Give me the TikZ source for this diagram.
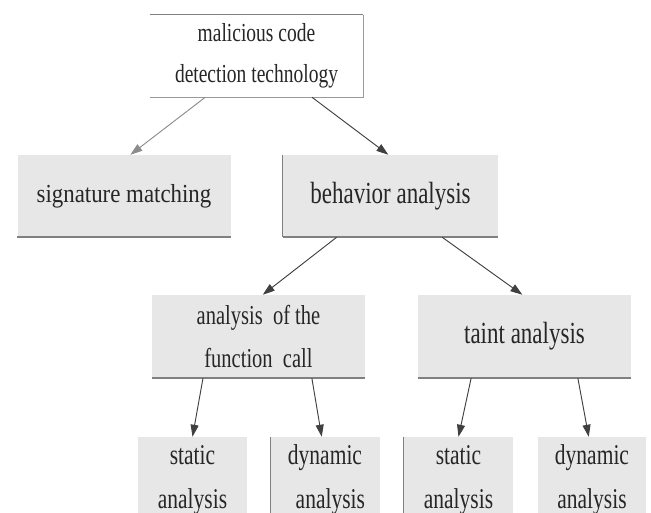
\documentclass[tikz,border=0pt]{standalone}
\usepackage{fontspec}
\usepackage{xcolor}
\usetikzlibrary{arrows.meta,calc}
\newfontfamily\condserif[FakeStretch=0.75]{Liberation Serif}
\newfontfamily\wideserif[FakeStretch=0.88]{Liberation Serif}
\definecolor{boxgray}{HTML}{E7E7E7}
\definecolor{edgegray}{HTML}{808080}

\begin{document}
\begin{tikzpicture}[x=0.75pt, y=-0.75pt,
    box/.style={fill=boxgray, inner sep=0pt, align=center, text=black!85},
    rootbox/.style={fill=white, inner sep=0pt, align=center, text=black!85, minimum width=159.75pt, minimum height=61.5pt, font={\condserif\fontsize{19.5}{31}\selectfont}},
    midbox/.style={box, minimum width=159.75pt, minimum height=61.5pt, font={\condserif\fontsize{23}{32}\selectfont}},
    leafbox/.style={box, minimum width=82pt, minimum height=64.5pt, font={\condserif\fontsize{21.5}{33}\selectfont}},
    shelf/.style={edgegray, line width=1.5pt},
    side/.style={edgegray, line width=0.5pt},
    arr/.style={-{Triangle[length=9pt,width=6pt]}, black!75, line width=0.7pt}]
    \useasboundingbox (0,0) rectangle (651,512);
    \clip (0,0) rectangle (651,512);

    \node[rootbox] (root) at (256.5,56) {malicious code\\detection technology};
    \node[midbox, font={\wideserif\fontsize{19.5}{31}\selectfont}] (sig) at (124,196) {signature matching};
    \node[midbox, minimum width=161.25pt] (beh) at (390.5,196) {behavior analysis};
    \node[midbox, minimum height=62.25pt, font={\condserif\fontsize{20.5}{32}\selectfont}] (func) at (258.5,336.5) {analysis\ \ of the\\function\ \ call};
    \node[midbox, minimum height=62.25pt] (taint) at (524.5,336.5) {taint analysis};
    \node[leafbox] (fs) at (192.5,480) {static\\analysis};
    \node[leafbox] (fd) at (325,480) {dynamic\\\ \ analysis};
    \node[leafbox] (ts) at (458.5,480) {static\\analysis};
    \node[leafbox, minimum width=81pt] (td) at (592,480) {dynamic\\analysis};

    \draw[edgegray!80] (root.north east) -- (root.south east) -- (root.south west);
    \draw[edgegray, line width=0.8pt] (root.north west) -- (root.north east);
    \foreach \n in {sig, beh, func, taint}
        \draw[shelf] (\n.south west) -- (\n.south east);
    \foreach \n in {beh, fd, ts}
        \draw[side] (\n.north west) -- (\n.south west);

    \draw[arr, black!45] ($(root.south west)!0.26!(root.south east)$) -- ($(sig.north west)!0.53!(sig.north east)$);
    \draw[arr] ($(root.south west)!0.76!(root.south east)$) -- ($(beh.north west)!0.49!(beh.north east)$);
    \draw[arr] ($(beh.south west)!0.25!(beh.south east)$) -- ($(func.north west)!0.52!(func.north east)$);
    \draw[arr] ($(beh.south west)!0.74!(beh.south east)$) -- ($(taint.north west)!0.49!(taint.north east)$);
    \draw[arr] ($(func.south west)!0.24!(func.south east)$) -- ($(fs.north west)!0.5!(fs.north east)$);
    \draw[arr] ($(func.south west)!0.75!(func.south east)$) -- ($(fd.north west)!0.47!(fd.north east)$);
    \draw[arr] ($(taint.south west)!0.25!(taint.south east)$) -- ($(ts.north west)!0.5!(ts.north east)$);
    \draw[arr] ($(taint.south west)!0.75!(taint.south east)$) -- ($(td.north west)!0.47!(td.north east)$);
\end{tikzpicture}
\end{document}
